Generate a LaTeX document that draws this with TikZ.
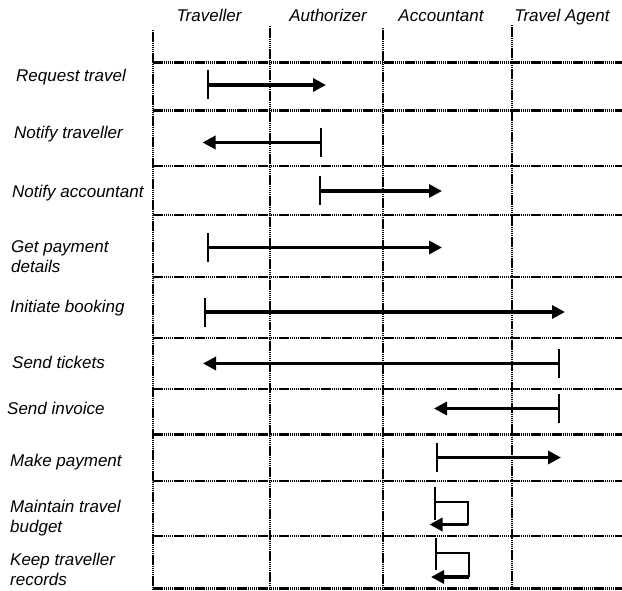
\documentclass[tikz,border=0pt]{standalone}
\usepackage{fontspec}
\setmainfont{Liberation Sans}
\usetikzlibrary{arrows.meta}

\begin{document}
\begin{tikzpicture}[x=1pt,y=-1pt,
  grid/.style={line width=2.3pt, dash pattern=on 1.5pt off 0.6pt},
  lbl/.style={font=\itshape\fontsize{17}{20}\selectfont, anchor=base west, align=left, inner sep=0pt},
  hdr/.style={font=\itshape\fontsize{17}{20}\selectfont, anchor=base, inner sep=0pt},
  msg/.style={line width=3.2pt, -{Triangle[length=13pt,width=13pt]}},
  tickmark/.style={line width=2pt},
  loopline/.style={line width=2pt}]
\useasboundingbox (0,0) rectangle (622,591);

% swimlane headers
\node[hdr] (hTrav) at (209,22) {Traveller};
\node[hdr] (hAuth) at (328,22) {Authorizer};
\node[hdr] (hAcc)  at (441,22) {Accountant};
\node[hdr] (hAgt)  at (562,22) {Travel Agent};

% lane separators
\draw[grid] (153,30) -- (153,589);
\draw[grid] (270,26) -- (270,589);
\draw[grid] (383,28) -- (383,589);
\draw[grid] (512,25) -- (512,589);

% row separators
\foreach \yy in {62.5,110.5,166,215,277,338,389,434.5,481,536,588.5}
  \draw[grid] (153,\yy) -- (622,\yy);

% row labels (two-line labels are placed by the baseline of their last line)
\node[lbl] (r1) at (16,82) {Request travel};
\node[lbl] (r2) at (14,138.5) {Notify traveller};
\node[lbl] (r3) at (12,198) {Notify accountant};
\node[lbl] (r4) at (11,272.7) {Get payment\\details};
\node[lbl] (r5) at (10,312.3) {Initiate booking};
\node[lbl] (r6) at (12,368.3) {Send tickets};
\node[lbl] (r7) at (7,414) {Send invoice};
\node[lbl] (r8) at (10,466.7) {Make payment};
\node[lbl] (r9) at (10,532) {Maintain travel\\budget};
\node[lbl] (r10) at (10,585.7) {Keep traveller\\records};

% message end points
\coordinate (m1s) at (207.5,85);    \coordinate (m1e) at (326,85);
\coordinate (m2s) at (320.5,142.5); \coordinate (m2e) at (202.5,142.5);
\coordinate (m3s) at (320,191);     \coordinate (m3e) at (442,191);
\coordinate (m4s) at (207.5,247.5); \coordinate (m4e) at (442,247.5);
\coordinate (m5s) at (205,312);     \coordinate (m5e) at (565,312);
\coordinate (m6s) at (559,363.5);   \coordinate (m6e) at (203,363.5);
\coordinate (m7s) at (559,408.5);   \coordinate (m7e) at (434,408.5);
\coordinate (m8s) at (437,457.5);   \coordinate (m8e) at (561,457.5);

% messages between lanes
\foreach \m in {1,...,8}{
  \draw[tickmark] ([yshift=14.5pt]m\m s) -- ([yshift=-14.5pt]m\m s);
  \draw[msg] (m\m s) -- (m\m e);
}

% self messages in the accountant lane
\coordinate (m9s) at (435,502);   \coordinate (m9c) at (467.5,524.5); \coordinate (m9e) at (429.5,524.5);
\coordinate (m10s) at (436,552.5); \coordinate (m10c) at (468.5,577); \coordinate (m10e) at (431,577);

\draw[tickmark] ([yshift=15pt]m9s) -- ([yshift=-18pt]m9s);
\draw[loopline] (m9s) -| (m9c);
\draw[msg] (m9c) -- (m9e);

\draw[tickmark] ([yshift=14.5pt]m10s) -- ([yshift=-17.5pt]m10s);
\draw[loopline] (m10s) -| (m10c);
\draw[msg] (m10c) -- (m10e);
\end{tikzpicture}
\end{document}
